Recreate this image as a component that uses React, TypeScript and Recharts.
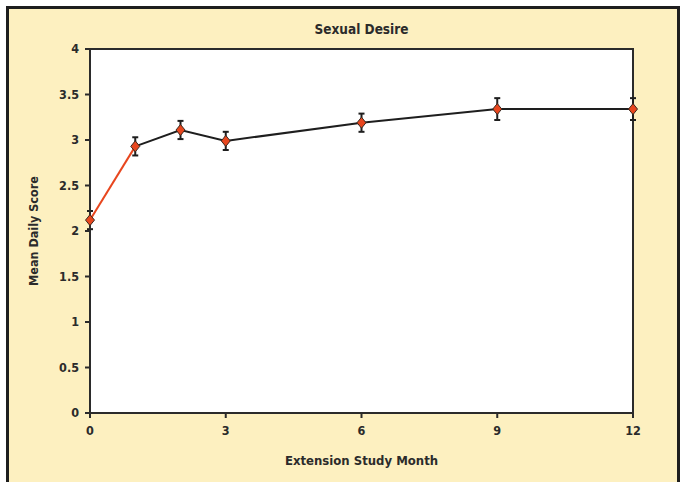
import React from "react";
import {
  LineChart,
  Line,
  XAxis,
  YAxis,
  ErrorBar,
  ReferenceArea,
} from "recharts";

const INK = "#2b2b2b";
const ORANGE = "#e8461e";
const PANEL = "#fdf0c0";
const FONT = "'DejaVu Sans Condensed', 'Roboto', sans-serif";

const months = [0, 1, 2, 3, 6, 9, 12];
const scores = [2.12, 2.93, 3.11, 2.99, 3.19, 3.34, 3.34];
const errors = [0.1, 0.1, 0.1, 0.1, 0.1, 0.12, 0.12];
const xTicks = [0, 3, 6, 9, 12];
const yTicks = [0, 0.5, 1, 1.5, 2, 2.5, 3, 3.5, 4];

// first segment (0 -> 1 month) is drawn in orange, the rest in black
const data = months.map((m, i) => ({
  month: m,
  score: scores[i],
  err: errors[i],
  early: i <= 1 ? scores[i] : null,
  later: i >= 1 ? scores[i] : null,
}));

const Diamond = (props: any) => {
  const { cx, cy } = props;
  if (cx == null || cy == null) return null;
  return (
    <path
      d={`M${cx},${cy - 5.5} L${cx + 4.5},${cy} L${cx},${cy + 5.5} L${cx - 4.5},${cy} Z`}
      fill={ORANGE}
      stroke="#3a2a20"
      strokeWidth={1}
    />
  );
};

const tick = { fill: INK, fontSize: 12.5, fontWeight: 700, fontFamily: FONT };

export default function App() {
  return (
    <div style={{ position: "absolute", left: 0, top: 0, width: 685, height: 482, background: "#fff", overflow: "hidden" }}>
      <div
        style={{
          position: "absolute",
          left: 6,
          top: 6,
          width: 668,
          height: 500,
          background: PANEL,
          border: "3px solid #1e1e1e",
        }}
      />
      <div
        style={{
          position: "absolute",
          left: 90,
          width: 543,
          top: 21,
          textAlign: "center",
          fontFamily: FONT,
          fontWeight: 700,
          fontSize: 13.5,
          color: INK,
        }}
      >
        Sexual Desire
      </div>
      <div
        style={{
          position: "absolute",
          left: 90,
          width: 543,
          top: 453,
          textAlign: "center",
          fontFamily: FONT,
          fontWeight: 700,
          fontSize: 13,
          color: INK,
        }}
      >
        Extension Study Month
      </div>
      <div
        style={{
          position: "absolute",
          left: 33,
          top: 231,
          transform: "translate(-50%, -50%) rotate(-90deg)",
          whiteSpace: "nowrap",
          fontFamily: FONT,
          fontWeight: 700,
          fontSize: 12.5,
          color: INK,
        }}
      >
        Mean Daily Score
      </div>
      <div style={{ position: "absolute", left: 0, top: 0 }}>
        <LineChart width={685} height={482} data={data} margin={{ top: 49, right: 52, left: 30, bottom: 39 }}>
          <ReferenceArea x1={0} x2={12} y1={0} y2={4} fill="#ffffff" fillOpacity={1} stroke={INK} strokeWidth={2} />
          <XAxis
            dataKey="month"
            type="number"
            domain={[0, 12]}
            ticks={xTicks}
            tick={tick}
            tickSize={5}
            tickMargin={8}
            height={30}
            axisLine={{ stroke: INK, strokeWidth: 2 }}
            tickLine={{ stroke: INK, strokeWidth: 2 }}
          />
          <YAxis
            type="number"
            domain={[0, 4]}
            ticks={yTicks}
            tick={tick}
            tickSize={5}
            tickMargin={6}
            width={60}
            axisLine={{ stroke: INK, strokeWidth: 2 }}
            tickLine={{ stroke: INK, strokeWidth: 2 }}
          />
          <Line dataKey="early" stroke={ORANGE} strokeWidth={2} dot={false} isAnimationActive={false} connectNulls={false} />
          <Line dataKey="later" stroke="#1e1e1e" strokeWidth={2} dot={false} isAnimationActive={false} connectNulls={false} />
          <Line dataKey="score" stroke="none" dot={<Diamond />} activeDot={false} isAnimationActive={false}>
            <ErrorBar dataKey="err" width={3} stroke="#1e1e1e" strokeWidth={2} direction="y" />
          </Line>
        </LineChart>
      </div>
    </div>
  );
}
